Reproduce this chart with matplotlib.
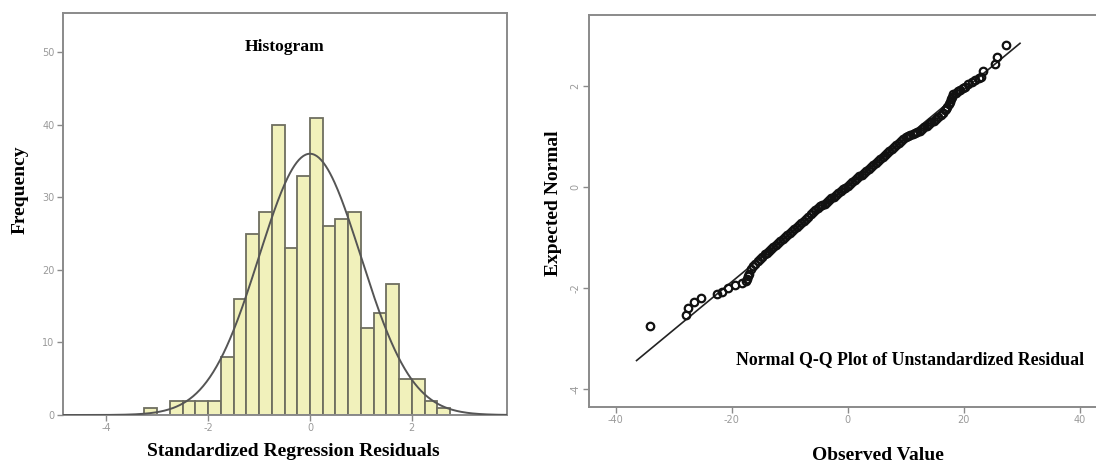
import numpy as np
import matplotlib
matplotlib.use('Agg')
import matplotlib.pyplot as plt

plt.rcParams['axes.unicode_minus'] = False

# Histograma de residuos estandarizados
bin_left = [-3.25, -3.00, -2.75, -2.50, -2.25, -2.00, -1.75, -1.50, -1.25, -1.00,
            -0.75, -0.50, -0.25, 0.00, 0.25, 0.50, 0.75, 1.00, 1.25, 1.50,
            1.75, 2.00, 2.25, 2.50]
counts = [1, 0, 2, 2, 2, 2, 8, 16, 25, 28,
          40, 23, 33, 41, 26, 27, 28, 12, 14, 18,
          5, 5, 2, 1]
bin_width = 0.25
res_mean = 0.0
res_sd = 1.0
hist_xticks = [-4, -2, 0, 2]
hist_yticks = [0, 10, 20, 30, 40, 50]

# Q-Q plot: residuo observado vs normal esperada
obs_value = [-34.1, -27.8, -27.5, -26.5, -25.3, -22.6, -21.7, -20.6, -19.4, -18.3,
             -17.6, -17.4, -17.2, -17.0, -16.6, -16.3, -15.9, -15.5, -15.1, -14.7,
             -14.3, -14.0, -13.6, -13.2, -12.8, -12.4, -12.0, -11.6, -11.2, -10.8,
             -10.4, -10.0, -9.6, -9.2, -8.8, -8.4, -8.0, -7.6, -7.2, -6.8,
             -6.4, -6.0, -5.6, -5.2, -4.8, -4.4, -4.0, -3.6, -3.2, -2.8,
             -2.4, -2.0, -1.6, -1.2, -0.8, -0.4, 0.0, 0.4, 0.8, 1.2,
             1.6, 2.0, 2.4, 2.8, 3.2, 3.6, 4.0, 4.4, 4.8, 5.2,
             5.6, 6.0, 6.4, 6.8, 7.2, 7.6, 8.0, 8.4, 8.8, 9.2,
             9.6, 10.0, 10.4, 10.8, 11.2, 11.6, 12.0, 12.4, 12.8, 13.2,
             13.6, 14.0, 14.4, 14.8, 15.2, 15.6, 16.0, 16.4, 16.8, 17.0,
             17.2, 17.4, 17.6, 17.8, 18.0, 18.2, 18.6, 19.0, 19.4, 19.8,
             20.2, 20.8, 21.4, 22.0, 22.6, 23.0, 23.4, 25.4, 25.7, 27.3]
exp_normal = [-2.76, -2.53, -2.39, -2.28, -2.20, -2.13, -2.08, -2.01, -1.95, -1.91,
              -1.87, -1.82, -1.77, -1.72, -1.63, -1.56, -1.52, -1.47, -1.43, -1.39,
              -1.34, -1.31, -1.27, -1.24, -1.20, -1.16, -1.12, -1.08, -1.04, -0.99,
              -0.95, -0.91, -0.87, -0.83, -0.79, -0.75, -0.71, -0.67, -0.63, -0.59,
              -0.54, -0.50, -0.46, -0.42, -0.39, -0.37, -0.34, -0.30, -0.27, -0.23,
              -0.20, -0.16, -0.12, -0.09, -0.05, -0.02, 0.02, 0.06, 0.09, 0.13,
              0.17, 0.21, 0.24, 0.28, 0.32, 0.36, 0.40, 0.43, 0.47, 0.51,
              0.55, 0.59, 0.62, 0.66, 0.70, 0.74, 0.78, 0.82, 0.86, 0.90,
              0.94, 0.98, 1.00, 1.02, 1.04, 1.07, 1.09, 1.11, 1.14, 1.18,
              1.21, 1.24, 1.28, 1.31, 1.34, 1.38, 1.42, 1.47, 1.51, 1.53,
              1.58, 1.63, 1.68, 1.73, 1.78, 1.83, 1.86, 1.89, 1.92, 1.95,
              1.98, 2.03, 2.07, 2.11, 2.15, 2.18, 2.30, 2.44, 2.56, 2.81]
line_x = [-36.4, 29.7]
line_y = [-3.44, 2.84]
qq_xticks = [-40, -20, 0, 20, 40]
qq_yticks = [-4, -2, 0, 2]

# Estilo
gris = '#8a8a8a'
serif = 'Liberation Serif'

fig = plt.figure(figsize=(10.96, 4.68), dpi=100)

# ---- Panel izquierdo: histograma ----
ax1 = fig.add_axes([0.0575, 0.1132, 0.4051, 0.859])
ax1.bar(bin_left, counts, width=bin_width, align='edge',
        facecolor='#f1f1bb', edgecolor='#6e6e60', linewidth=1.3, zorder=2)

xs = np.linspace(-4.85, 3.87, 400)
n_total = sum(counts)
pdf = np.exp(-0.5 * ((xs - res_mean) / res_sd) ** 2) / (res_sd * np.sqrt(2 * np.pi))
ax1.plot(xs, n_total * bin_width * pdf, color='#555555', linewidth=1.4, zorder=3)

ax1.set_xlim(-4.85, 3.87)
ax1.set_ylim(0, 55.4)
ax1.set_xticks(hist_xticks)
ax1.set_yticks(hist_yticks)
ax1.text(0.5, 0.915, 'Histogram', transform=ax1.transAxes, ha='center', va='center',
         fontsize=12.6, fontweight='bold', family=serif)

# ---- Panel derecho: Q-Q normal ----
ax2 = fig.add_axes([0.5374, 0.1303, 0.4626, 0.8376])
ax2.plot(line_x, line_y, color='#222222', linewidth=1.2, zorder=2)
ax2.plot(obs_value, exp_normal, linestyle='none', marker='o', markersize=5.4,
         markerfacecolor='none', markeredgecolor='#111111', markeredgewidth=1.6, zorder=3)

ax2.set_xlim(-44.6, 42.8)
ax2.set_ylim(-4.36, 3.40)
ax2.set_xticks(qq_xticks)
ax2.set_yticks(qq_yticks)
ax2.spines['right'].set_visible(False)
for lab in ax2.get_yticklabels():
    lab.set_rotation(90)
    lab.set_va('center')

for ax in (ax1, ax2):
    for s in ax.spines.values():
        s.set_color(gris)
        s.set_linewidth(1.4)
    ax.tick_params(colors=gris, labelcolor='#9a9a9a', labelsize=7, length=4,
                   width=1.0, pad=2)

# Textos (coordenadas en pixeles de la imagen, y desde arriba)
def etiqueta(x, y, s, rot=0, size=14):
    fig.text(x / 1096, 1 - y / 468, s, ha='center', va='center', rotation=rot,
             fontsize=size, fontweight='bold', family=serif)

etiqueta(20, 190, 'Frequency', 90)
etiqueta(293, 451, 'Standardized Regression Residuals')
etiqueta(553, 203, 'Expected Normal', 90)
etiqueta(878, 455, 'Observed Value')
etiqueta(910, 360, 'Normal Q-Q Plot of Unstandardized Residual', size=12.8)

fig.savefig('out.png', dpi=100)
